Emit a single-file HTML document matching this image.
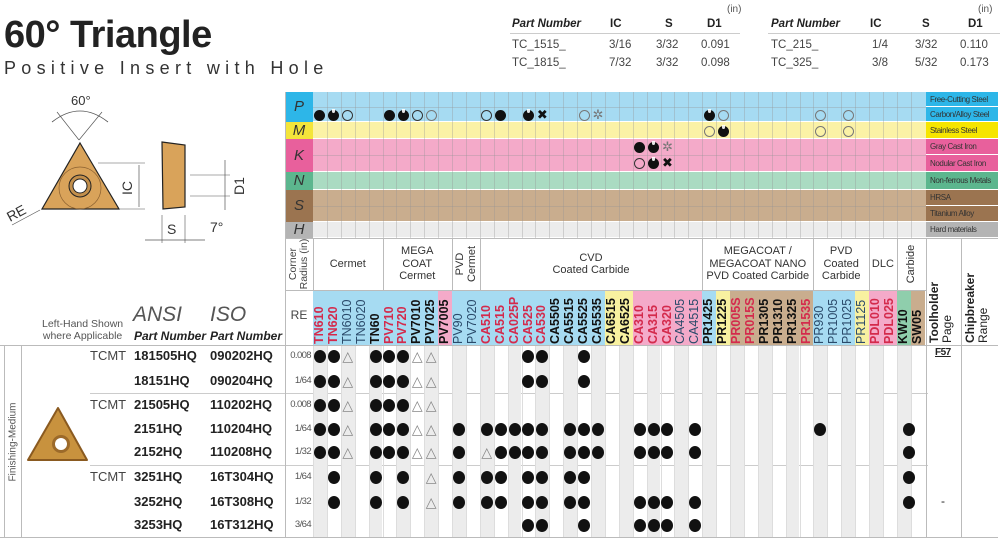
<!DOCTYPE html>
<html><head><meta charset="utf-8"><style>
*{margin:0;padding:0;box-sizing:border-box}
body{width:1000px;height:540px;background:#fff;position:relative;overflow:hidden;font-family:"Liberation Sans",sans-serif;color:#222}
.a{position:absolute;white-space:nowrap}
.c{text-align:center}
.v{writing-mode:vertical-rl;transform:rotate(180deg);text-align:left}
</style></head><body>
<div class="a" style="left:4px;top:14px;font-size:38px;font-weight:bold;letter-spacing:-0.5px">60° Triangle</div>
<div class="a" style="left:4px;top:58px;font-size:18px;letter-spacing:5.3px;color:#333">Positive Insert with Hole</div>

<div class="a" style="left:727px;top:4px;font-size:10px;color:#555">(in)</div>
<div class="a" style="left:978px;top:4px;font-size:10px;color:#555">(in)</div>
<div class="a" style="left:512px;top:18px;font-size:11.5px;font-weight:bold;font-style:italic">Part Number</div>
<div class="a" style="left:610px;top:18px;font-size:11.5px;font-weight:bold">IC</div>
<div class="a" style="left:665px;top:18px;font-size:11.5px;font-weight:bold">S</div>
<div class="a" style="left:707px;top:18px;font-size:11.5px;font-weight:bold">D1</div>
<div class="a" style="left:771px;top:18px;font-size:11.5px;font-weight:bold;font-style:italic">Part Number</div>
<div class="a" style="left:870px;top:18px;font-size:11.5px;font-weight:bold">IC</div>
<div class="a" style="left:922px;top:18px;font-size:11.5px;font-weight:bold">S</div>
<div class="a" style="left:968px;top:18px;font-size:11.5px;font-weight:bold">D1</div>
<div class="a" style="left:510px;top:33px;width:230px;border-top:1px solid #ccc"></div>
<div class="a" style="left:768px;top:33px;width:232px;border-top:1px solid #ccc"></div>
<div class="a" style="left:512px;top:36px;font-size:11.5px;color:#444;line-height:18px">TC_1515_<br>TC_1815_</div>
<div class="a" style="left:609px;top:36px;font-size:11.5px;color:#444;line-height:18px">3/16<br>7/32</div>
<div class="a" style="left:656px;top:36px;font-size:11.5px;color:#444;line-height:18px">3/32<br>3/32</div>
<div class="a" style="left:701px;top:36px;font-size:11.5px;color:#444;line-height:18px">0.091<br>0.098</div>
<div class="a" style="left:771px;top:36px;font-size:11.5px;color:#444;line-height:18px">TC_215_<br>TC_325_</div>
<div class="a" style="left:872px;top:36px;font-size:11.5px;color:#444;line-height:18px">1/4<br>3/8</div>
<div class="a" style="left:915px;top:36px;font-size:11.5px;color:#444;line-height:18px">3/32<br>5/32</div>
<div class="a" style="left:960px;top:36px;font-size:11.5px;color:#444;line-height:18px">0.110<br>0.173</div>

<svg class="a" style="left:0;top:85px" width="260" height="170" viewBox="0 85 260 170">
<path d="M52 122 Q80 100 108 122" fill="none" stroke="#555" stroke-width="0.8"/>
<line x1="79" y1="140" x2="57" y2="112" stroke="#555" stroke-width="0.7"/>
<line x1="79" y1="140" x2="102" y2="112" stroke="#555" stroke-width="0.7"/>
<text x="71" y="105" font-size="13" fill="#333" font-family="Liberation Sans">60°</text>
<polygon points="80,143 119,209 42,209" fill="#d9a35a" stroke="#222" stroke-width="1.2"/>
<circle cx="80" cy="188" r="21" fill="none" stroke="#8a6030" stroke-width="0.7"/>
<circle cx="80" cy="186" r="11" fill="#c28f4c" stroke="#222" stroke-width="1"/>
<circle cx="80" cy="186" r="7" fill="#fff" stroke="#222" stroke-width="1"/>
<line x1="98" y1="163" x2="145" y2="163" stroke="#555" stroke-width="0.6"/>
<line x1="119" y1="209" x2="145" y2="209" stroke="#555" stroke-width="0.6"/>
<line x1="139" y1="165" x2="139" y2="207" stroke="#555" stroke-width="0.7"/>
<text x="0" y="0" font-size="14" fill="#333" transform="translate(132,195) rotate(-90)" font-family="Liberation Sans">IC</text>
<line x1="12" y1="225" x2="40" y2="210" stroke="#555" stroke-width="0.7"/>
<text x="0" y="0" font-size="14" fill="#333" transform="translate(10,222) rotate(-28)" font-family="Liberation Sans">RE</text>
<polygon points="162,142 185,145 185,207 163,209" fill="#d9a35a" stroke="#222" stroke-width="1.2"/>
<line x1="190" y1="175" x2="230" y2="175" stroke="#555" stroke-width="0.6"/>
<line x1="190" y1="196" x2="230" y2="196" stroke="#555" stroke-width="0.6"/>
<line x1="225" y1="160" x2="225" y2="210" stroke="#555" stroke-width="0.7"/>
<text x="0" y="0" font-size="14" fill="#333" transform="translate(244,195) rotate(-90)" font-family="Liberation Sans">D1</text>
<text x="210" y="232" font-size="14" fill="#333" font-family="Liberation Sans">7°</text>
<line x1="162" y1="215" x2="162" y2="243" stroke="#555" stroke-width="0.6"/>
<line x1="185" y1="215" x2="185" y2="243" stroke="#555" stroke-width="0.6"/>
<line x1="145" y1="240" x2="205" y2="240" stroke="#555" stroke-width="0.7"/>
<text x="167" y="234" font-size="14" fill="#333" font-family="Liberation Sans">S</text>
</svg>

<div class="a" style="left:42px;top:318px;font-size:10.5px;color:#555;text-align:center;line-height:12px">Left-Hand Shown<br>where Applicable</div>
<div class="a" style="left:133px;top:303px;font-size:21px;font-style:italic;color:#555">ANSI</div>
<div class="a" style="left:210px;top:303px;font-size:21px;font-style:italic;color:#555">ISO</div>
<div class="a" style="left:134px;top:329px;font-size:12px;font-weight:bold;font-style:italic">Part Number</div>
<div class="a" style="left:210px;top:329px;font-size:12px;font-weight:bold;font-style:italic">Part Number</div>

<div class="a" style="left:0;top:345px;width:998px;border-top:1px solid #bbb"></div>
<div class="a" style="left:0;top:537px;width:998px;border-top:1px solid #bbb"></div>
<div class="a" style="left:4px;top:345px;height:192px;border-left:1px solid #bbb"></div>
<div class="a" style="left:21px;top:345px;height:192px;border-left:1px solid #bbb"></div>
<div class="a" style="left:13px;top:442px;font-size:10px;color:#555;transform:translate(-50%,-50%) rotate(-90deg)">Finishing-Medium</div>
<svg class="a" style="left:25px;top:405px" width="65" height="60"><polygon points="33,3 62,55 3,55" fill="#c8923e" stroke="#8a5a20" stroke-width="2" stroke-linejoin="round"/><circle cx="36" cy="39" r="9" fill="#9c6a2a"/><circle cx="36" cy="39" r="6" fill="#fff"/></svg>
<div class="a" style="left:90px;top:393px;width:838px;border-top:1px solid #ccc"></div>
<div class="a" style="left:90px;top:465px;width:838px;border-top:1px solid #ccc"></div>

<div id="g"></div>
<script>
var H='';function A(s){H+=s}
var X0=313,W=13.9;
var rows=[[92,122,'P','#2db6e8','#a6dbf2'],[122,139,'M','#f4e53a','#fbf2a6'],[139,172,'K','#e8609c','#f4aac9'],[172,190,'N','#5cb68e','#aadbc2'],[190,222,'S','#9b7450','#c9ad8e'],[222,238,'H','#b4b4b4','#ececec']];
rows.forEach(function(r){A('<div class="a c" style="left:285px;top:'+r[0]+'px;width:28px;height:'+(r[1]-r[0])+'px;background:'+r[3]+';font-size:15px;font-style:italic;line-height:'+(r[1]-r[0])+'px;color:#333">'+r[2]+'</div>');
A('<div class="a" style="left:313px;top:'+r[0]+'px;width:613px;height:'+(r[1]-r[0])+'px;background:'+r[4]+';border-bottom:1px solid #fff"></div>');});
for(var i=1;i<44;i++)A('<div class="a" style="left:'+(X0+W*i)+'px;top:92px;height:146px;border-left:1px solid rgba(150,150,150,0.35)"></div>');
[107,155,206].forEach(function(y){A('<div class="a" style="left:313px;top:'+y+'px;width:613px;border-top:1px solid rgba(150,150,150,0.35)"></div>')});
var labs=[[92,107,'Free-Cutting Steel','#2db6e8'],[107,122,'Carbon/Alloy Steel','#2db6e8'],[122,139,'Stainless Steel','#f6e500'],[139,155,'Gray Cast Iron','#e8609c'],[155,172,'Nodular Cast Iron','#e8609c'],[172,190,'Non-ferrous Metals','#5cb68e'],[190,206,'HRSA','#9b7450'],[206,222,'Titanium Alloy','#9b7450'],[222,238,'Hard materials','#b4b4b4']];
labs.forEach(function(l){A('<div class="a" style="left:926px;top:'+l[0]+'px;width:72px;height:'+(l[1]-l[0])+'px;background:'+l[3]+';font-size:8px;letter-spacing:-0.4px;color:#333;padding-left:4px;line-height:'+(l[1]-l[0])+'px;border-bottom:1px solid #fff">'+l[2]+'</div>')});
function sym(c,y,t){var x=X0+W*c+W/2;
if(t=='d'||t=='h'){A('<div class="a" style="left:'+(x-5.5)+'px;top:'+(y-5.5)+'px;width:11px;height:11px;border-radius:50%;background:#111"></div>');if(t=='h')A('<div class="a" style="left:'+(x-1.5)+'px;top:'+(y-6)+'px;width:3px;height:4px;background:#fff;border-radius:0 0 2px 2px;opacity:.9"></div>');}
else if(t=='o'||t=='q'){A('<div class="a" style="left:'+(x-5.5)+'px;top:'+(y-5.5)+'px;width:11px;height:11px;border-radius:50%;border:1px solid '+(t=='o'?'#333':'#777')+'"></div>');}
else{var s=t=='f'?'✲':'✖';A('<div class="a c" style="left:'+(x-8)+'px;top:'+(y-8)+'px;width:16px;font-size:13px;line-height:16px;color:'+(t=='f'?'#777':'#111')+'">'+s+'</div>')}}
[[0,'d'],[1,'h'],[2,'o'],[5,'d'],[6,'h'],[7,'o'],[8,'q'],[12,'o'],[13,'d'],[15,'h'],[16,'x'],[19,'q'],[20,'f'],[28,'h'],[29,'q'],[36,'q'],[38,'q']].forEach(function(s){sym(s[0],115,s[1])});
[[28,'q'],[29,'h'],[36,'q'],[38,'q']].forEach(function(s){sym(s[0],131,s[1])});
[[23,'d'],[24,'h'],[25,'f']].forEach(function(s){sym(s[0],147,s[1])});
[[23,'o'],[24,'h'],[25,'x']].forEach(function(s){sym(s[0],163,s[1])});
A('<div class="a" style="left:285px;top:238px;width:713px;border-top:1px solid #bbb"></div>');
A('<div class="a" style="left:285px;top:290px;width:641px;border-top:1px solid #bbb"></div>');
A('<div class="a" style="left:285px;top:92px;height:445px;border-left:1px solid #bbb"></div>');
var grp=[[0,5,'Cermet'],[5,10,'MEGA<br>COAT<br>Cermet'],[10,12,''],[12,28,'CVD<br>Coated Carbide'],[28,36,'MEGACOAT /<br>MEGACOAT NANO<br>PVD Coated Carbide'],[36,40,'PVD<br>Coated<br>Carbide'],[40,42,'DLC'],[42,44,'']];
grp.forEach(function(g){var l=X0+W*g[0],w=W*(g[1]-g[0]);A('<div class="a" style="left:'+l+'px;top:238px;height:52px;border-left:1px solid #bbb"></div>');A('<div class="a c" style="left:'+l+'px;top:238px;width:'+w+'px;height:52px;display:flex;align-items:center;justify-content:center;font-size:11px;line-height:12.5px;color:#333;white-space:normal">'+g[2]+'</div>')});
A('<div class="a" style="left:'+(X0+W*11)+'px;top:264px;font-size:11px;line-height:12px;color:#333;transform:translate(-50%,-50%) rotate(-90deg);text-align:center">PVD<br>Cermet</div>');
A('<div class="a" style="left:'+(X0+W*43)+'px;top:264px;font-size:11px;color:#333;transform:translate(-50%,-50%) rotate(-90deg)">Carbide</div>');
A('<div class="a" style="left:299px;top:264px;font-size:10.5px;line-height:11px;color:#444;transform:translate(-50%,-50%) rotate(-90deg);text-align:center">Corner<br>Radius (in)</div>');
A('<div class="a c" style="left:285px;top:308px;width:28px;font-size:12px;color:#444">RE</div>');
A('<div class="a" style="left:926px;top:238px;height:299px;border-left:1px solid #bbb"></div>');
A('<div class="a" style="left:961px;top:238px;height:299px;border-left:1px solid #bbb"></div>');
A('<div class="a v" style="left:928px;top:245px;width:30px;height:98px;font-size:12px;line-height:13px;color:#222"><b>Toolholder</b><br>Page</div>');
A('<div class="a v" style="left:964px;top:245px;width:30px;height:98px;font-size:12px;line-height:13px;color:#222"><b>Chipbreaker</b><br>Range</div>');
var B='#a6dbf2',P='#f4aac9',Y='#f8f1a0',T='#c9ad8e',G='#8fceac';
var gr=[['TN610',B,'r'],['TN620',B,'r'],['TN6010',B,'n'],['TN6020',B,'n'],['TN60',B,'b'],['PV710',B,'r'],['PV720',B,'r'],['PV7010',B,'b'],['PV7025',B,'b'],['PV7005',P,'b'],['PV90',B,'n'],['PV7020',B,'n'],['CA510',B,'r'],['CA515',B,'r'],['CA025P',B,'r'],['CA525',B,'r'],['CA530',B,'r'],['CA5505',B,'b'],['CA5515',B,'b'],['CA5525',B,'b'],['CA5535',B,'b'],['CA6515',Y,'b'],['CA6525',Y,'b'],['CA310',P,'r'],['CA315',P,'r'],['CA320',P,'r'],['CA4505',P,'n'],['CA4515',P,'n'],['PR1425',B,'b'],['PR1225',Y,'b'],['PR005S',T,'r'],['PR015S',T,'r'],['PR1305',T,'b'],['PR1310',T,'b'],['PR1325',T,'b'],['PR1535',T,'r'],['PR930',B,'n'],['PR1005',B,'n'],['PR1025',B,'n'],['PR1125',Y,'n'],['PDL010',P,'r'],['PDL025',P,'r'],['KW10',G,'b'],['SW05',T,'b']];
gr.forEach(function(g,i){var l=X0+W*i;var col=g[2]=='r'?'#d42a4c':(g[2]=='b'?'#111':'#2a4a6a');var fw=g[2]=='n'?'normal':'bold';
A('<div class="a" style="left:'+l+'px;top:291px;width:'+(W+0.5)+'px;height:54px;background:'+g[1]+'"></div>');
A('<div class="a v" style="left:'+l+'px;top:292px;width:'+W+'px;height:52px;font-size:12.5px;font-weight:'+fw+';color:'+col+';line-height:'+W+'px">'+g[0]+'</div>');
if(i%2==0)A('<div class="a" style="left:'+l+'px;top:346px;width:'+W+'px;height:191px;background:#ececec"></div>');
A('<div class="a" style="left:'+l+'px;top:346px;height:191px;border-left:1px solid #ddd"></div>');});
var ry=[356,381,405,429,452,477,502,525];
var ansi=[['TCMT','181505HQ','090202HQ','0.008'],['','18151HQ','090204HQ','1/64'],['TCMT','21505HQ','110202HQ','0.008'],['','2151HQ','110204HQ','1/64'],['','2152HQ','110208HQ','1/32'],['TCMT','3251HQ','16T304HQ','1/64'],['','3252HQ','16T308HQ','1/32'],['','3253HQ','16T312HQ','3/64']];
ansi.forEach(function(a,i){var y=ry[i]-8;A('<div class="a" style="left:90px;top:'+y+'px;font-size:13px;color:#444">'+a[0]+'</div><div class="a" style="left:134px;top:'+y+'px;font-size:13px;font-weight:bold">'+a[1]+'</div><div class="a" style="left:210px;top:'+y+'px;font-size:13px;font-weight:bold">'+a[2]+'</div><div class="a" style="left:285px;top:'+(y+2)+'px;width:28px;text-align:right;padding-right:2px;font-size:9.5px;letter-spacing:-0.6px;color:#555">'+a[3]+'</div>')});
function dt(c,y,t){var x=X0+W*c+W/2;if(t=='t')A('<div class="a c" style="left:'+(x-8)+'px;top:'+(y-9)+'px;width:16px;font-size:14px;line-height:18px;color:#888">△</div>');else A('<div class="a" style="left:'+(x-6)+'px;top:'+(y-6.5)+'px;width:12px;height:13px;border-radius:50%;background:#111"></div>')}
var base=[[0],[1],[2,'t'],[4],[5],[6],[7,'t'],[8,'t']];
function rowp(y,arr){arr.forEach(function(a){dt(a[0],y,a[1])})}
rowp(ry[0],base.concat([[15],[16],[19]]));
rowp(ry[1],base.concat([[15],[16],[19]]));
rowp(ry[2],base);
var mid=[[10],[13],[14],[15],[16],[18],[19],[20],[23],[24],[25],[27]];
rowp(ry[3],base.concat(mid,[[12],[36],[42.4]]));
rowp(ry[4],base.concat(mid,[[12,'t'],[42.4]]));
var g3=[[1],[4],[6],[8,'t'],[10],[12],[13],[15],[16],[18],[19],[42.4]];
rowp(ry[5],g3);
rowp(ry[6],g3.concat([[23],[24],[25],[27]]));
rowp(ry[7],[[15],[16],[19],[23],[24],[25],[27]]);
A('<div class="a" style="left:935px;top:347px;font-size:10px;font-weight:bold;text-decoration:underline;letter-spacing:-0.5px">F57</div>');
A('<div class="a" style="left:941px;top:494px;font-size:12px">-</div>');
document.getElementById('g').innerHTML=H;
</script>
</body></html>
